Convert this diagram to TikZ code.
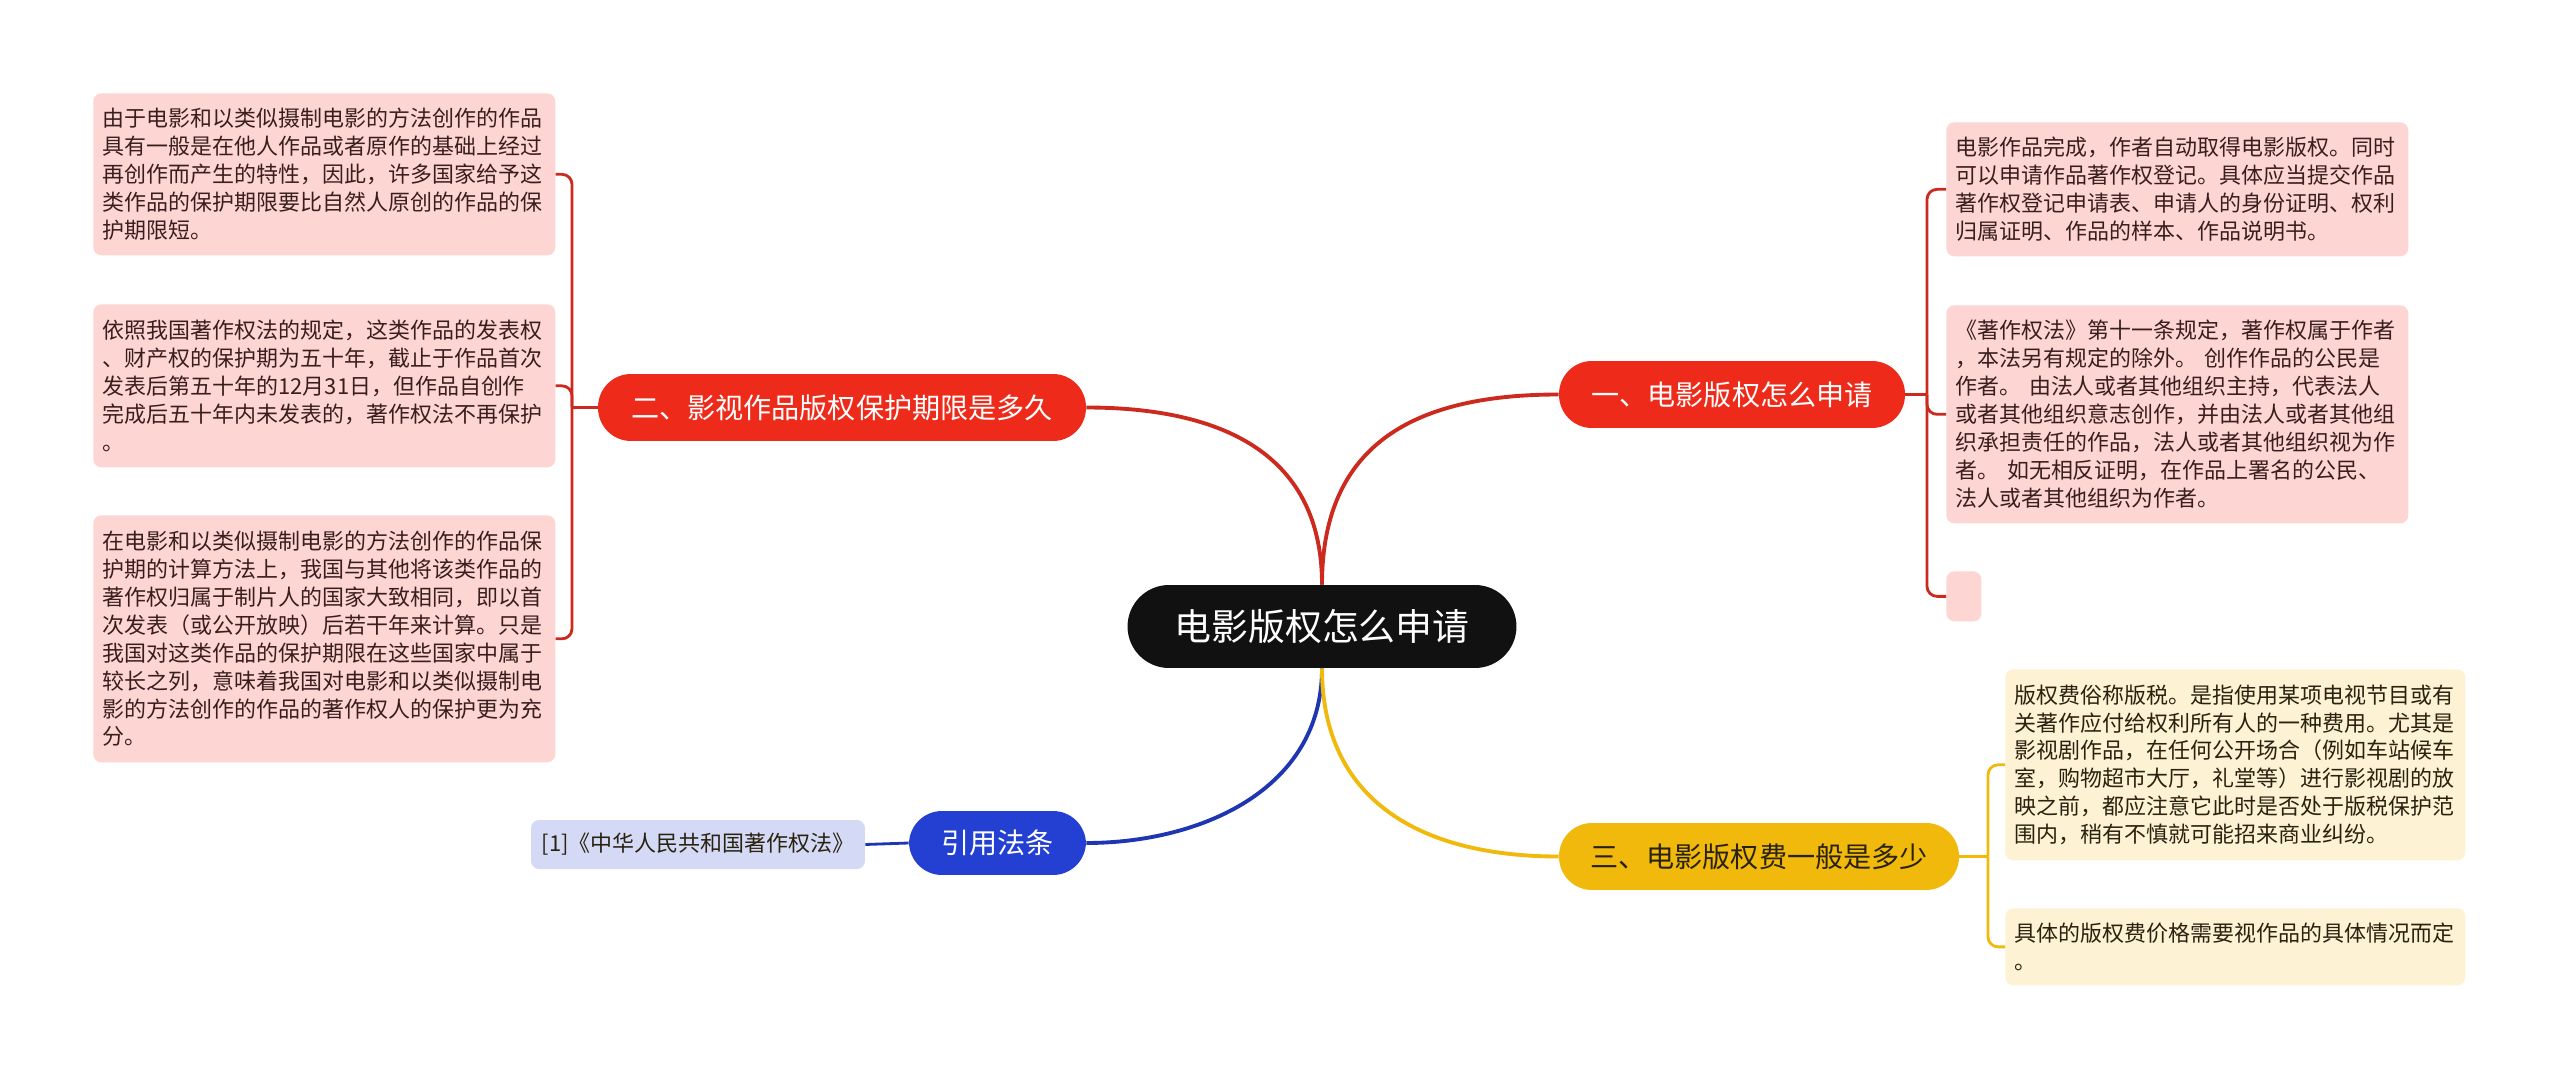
\documentclass[tikz,border=0pt]{standalone}
\usepackage{fontspec}
\setmainfont{Noto Sans CJK SC}
\usepackage{xcolor}
\definecolor{rootblack}{HTML}{111111}
\definecolor{branchred}{HTML}{EE2B1B}
\definecolor{linered}{HTML}{CC2A1F}
\definecolor{branchyellow}{HTML}{F0B90C}
\definecolor{branchblue}{HTML}{2340D2}
\definecolor{leafpink}{HTML}{FDD6D4}
\definecolor{leafyellow}{HTML}{FDF2D3}
\definecolor{leafblue}{HTML}{D4DAF6}
\definecolor{leaftext}{HTML}{3A1E1E}
\definecolor{darktext}{HTML}{2A2210}

\begin{document}
\begin{tikzpicture}[
    x=0.02cm, y=-0.02cm,
    root/.style={rectangle, rounded corners=0.83cm, fill=rootblack, text=white, minimum width=7.78cm, minimum height=1.66cm, font=\fontsize{21pt}{24pt}\selectfont},
    branch/.style={rectangle, rounded corners=0.66cm, minimum height=1.34cm, text=white, font=\fontsize{16pt}{19pt}\selectfont},
    leaf/.style={rectangle, rounded corners=0.16cm, anchor=north west, fill=leafpink, text width=8.86cm, inner xsep=0.19cm, align=left, text=leaftext, font=\fontsize{12.5pt}{15.9pt}\selectfont},
    link/.style={line width=2.2pt},
    twig/.style={line width=1.6pt, rounded corners=0.2cm}
]

\path[fill=white] (0,0) rectangle (2560,1081);
\useasboundingbox (0,0) rectangle (2560,1081);

% Root
\node[root] (root) at (1322,626.5) {电影版权怎么申请};

% Branches
\node[branch, fill=branchred, minimum width=6.92cm] (b1) at (1732,394.5) {一、电影版权怎么申请};
\node[branch, fill=branchred, minimum width=9.76cm] (b2) at (842,407.5) {二、影视作品版权保护期限是多久};
\node[branch, fill=branchyellow, text=darktext, minimum width=8cm] (b3) at (1759,856.5) {三、电影版权费一般是多少};
\node[branch, fill=branchblue, minimum width=3.54cm, minimum height=1.28cm] (b4) at (997.5,843) {引用法条};

% Leaves of branch 1
\node[leaf, minimum height=2.68cm] (r1) at (1946,122) {电影作品完成，作者自动取得电影版权。同时\\可以申请作品著作权登记。具体应当提交作品\\著作权登记申请表、申请人的身份证明、权利\\归属证明、作品的样本、作品说明书。};
\node[leaf, minimum height=4.36cm] (r2) at (1946,305) {《著作权法》第十一条规定，著作权属于作者\\，本法另有规定的除外。 创作作品的公民是\\作者。 由法人或者其他组织主持，代表法人\\或者其他组织意志创作，并由法人或者其他组\\织承担责任的作品，法人或者其他组织视为作\\者。 如无相反证明，在作品上署名的公民、\\法人或者其他组织为作者。};
\node[leaf, text width=0.32cm, minimum height=1cm] (r3) at (1946,571) {};

% Leaves of branch 2
\node[leaf, minimum height=3.24cm] (l1) at (93,93) {由于电影和以类似摄制电影的方法创作的作品\\具有一般是在他人作品或者原作的基础上经过\\再创作而产生的特性，因此，许多国家给予这\\类作品的保护期限要比自然人原创的作品的保\\护期限短。};
\node[leaf, minimum height=3.26cm] (l2) at (93,304) {依照我国著作权法的规定，这类作品的发表权\\、财产权的保护期为五十年，截止于作品首次\\发表后第五十年的12月31日，但作品自创作\\完成后五十年内未发表的，著作权法不再保护\\。};
\node[leaf, minimum height=4.94cm] (l3) at (93,515) {在电影和以类似摄制电影的方法创作的作品保\\护期的计算方法上，我国与其他将该类作品的\\著作权归属于制片人的国家大致相同，即以首\\次发表（或公开放映）后若干年来计算。只是\\我国对这类作品的保护期限在这些国家中属于\\较长之列，意味着我国对电影和以类似摄制电\\影的方法创作的作品的著作权人的保护更为充\\分。};

% Leaves of branch 3
\node[leaf, fill=leafyellow, text=darktext, text width=8.82cm, minimum height=3.82cm] (y1) at (2005,669) {版权费俗称版税。是指使用某项电视节目或有\\关著作应付给权利所有人的一种费用。尤其是\\影视剧作品，在任何公开场合（例如车站候车\\室，购物超市大厅，礼堂等）进行影视剧的放\\映之前，都应注意它此时是否处于版税保护范\\围内，稍有不慎就可能招来商业纠纷。};
\node[leaf, fill=leafyellow, text=darktext, text width=8.82cm, minimum height=1.54cm] (y2) at (2005,908) {具体的版权费价格需要视作品的具体情况而定\\。};

% Leaf of branch 4
\node[leaf, anchor=center, fill=leafblue, text=darktext, text width=, align=center, minimum width=6.68cm, minimum height=0.98cm] (ref) at (698,844.5) {[1]《中华人民共和国著作权法》};

% Main links
\draw[link, linered] (root.north) .. controls (1322,440) and (1420,394.5) .. (b1.west);
\draw[link, linered] (root.north) .. controls (1322,440) and (1200,407.5) .. (b2.east);
\draw[link, branchblue!85!black] (root.south) .. controls (1322,790) and (1200,843) .. (b4.east);
\draw[link, branchyellow] (root.south) .. controls (1322,800) and (1420,856.5) .. (b3.west);

% Twigs
\coordinate (j1) at (1927,394.5);
\coordinate (j2) at (572,407.5);
\coordinate (j3) at (1988,856.5);

\draw[twig, linered] (b1.east) -- (j1);
\draw[twig, linered] (j1) |- (r1.west);
\draw[twig, linered] (j1) |- (r2.west);
\draw[twig, linered] (j1) |- (r3.west);

\draw[twig, linered] (b2.west) -- (j2);
\draw[twig, linered] (j2) |- (l1.east);
\draw[twig, linered] (j2) |- (l2.east);
\draw[twig, linered] (j2) |- (l3.east);

\draw[twig, branchyellow] (b3.east) -- (j3);
\draw[twig, branchyellow] (j3) |- (y1.west);
\draw[twig, branchyellow] (j3) |- (y2.west);

\draw[twig, branchblue!85!black] (b4.west) -- (ref.east);

\end{tikzpicture}
\end{document}
